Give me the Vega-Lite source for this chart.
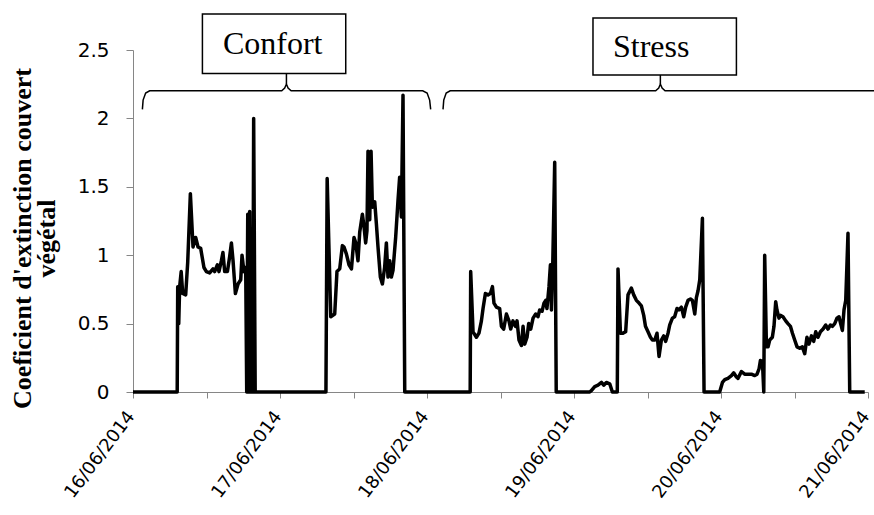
{
  "$schema": "https://vega.github.io/schema/vega-lite/v6.json",
  "width": 735,
  "height": 342,
  "autosize": {"type": "none"},
  "padding": {"left": 133, "top": 50, "right": 6, "bottom": 123},
  "background": "white",
  "config": {"view": {"stroke": null}},
  "datasets": {
    "series": [
      {"t": "2014-06-16T00:00", "v": 0},
      {"t": "2014-06-16T07:13", "v": 0},
      {"t": "2014-06-16T07:18", "v": 0.77},
      {"t": "2014-06-16T07:28", "v": 0.5},
      {"t": "2014-06-16T07:37", "v": 0.77},
      {"t": "2014-06-16T07:52", "v": 0.88},
      {"t": "2014-06-16T08:07", "v": 0.72},
      {"t": "2014-06-16T08:36", "v": 0.71},
      {"t": "2014-06-16T08:56", "v": 0.95},
      {"t": "2014-06-16T09:22", "v": 1.45},
      {"t": "2014-06-16T09:48", "v": 1.06},
      {"t": "2014-06-16T10:14", "v": 1.13},
      {"t": "2014-06-16T10:37", "v": 1.06},
      {"t": "2014-06-16T11:03", "v": 1.05},
      {"t": "2014-06-16T11:35", "v": 0.91},
      {"t": "2014-06-16T11:59", "v": 0.88},
      {"t": "2014-06-16T12:31", "v": 0.87},
      {"t": "2014-06-16T13:04", "v": 0.9},
      {"t": "2014-06-16T13:20", "v": 0.88},
      {"t": "2014-06-16T13:47", "v": 0.93},
      {"t": "2014-06-16T14:02", "v": 0.88},
      {"t": "2014-06-16T14:26", "v": 0.96},
      {"t": "2014-06-16T14:41", "v": 1.02},
      {"t": "2014-06-16T14:58", "v": 0.88},
      {"t": "2014-06-16T15:25", "v": 0.88},
      {"t": "2014-06-16T15:47", "v": 0.99},
      {"t": "2014-06-16T16:04", "v": 1.09},
      {"t": "2014-06-16T16:20", "v": 0.96},
      {"t": "2014-06-16T16:43", "v": 0.72},
      {"t": "2014-06-16T17:09", "v": 0.79},
      {"t": "2014-06-16T17:35", "v": 0.82},
      {"t": "2014-06-16T17:48", "v": 1.0},
      {"t": "2014-06-16T18:07", "v": 0.88},
      {"t": "2014-06-16T18:24", "v": 0.91},
      {"t": "2014-06-16T18:34", "v": 0},
      {"t": "2014-06-16T18:44", "v": 1.3},
      {"t": "2014-06-16T18:53", "v": 0},
      {"t": "2014-06-16T19:03", "v": 1.32},
      {"t": "2014-06-16T19:13", "v": 0},
      {"t": "2014-06-16T19:23", "v": 1.1},
      {"t": "2014-06-16T19:33", "v": 0},
      {"t": "2014-06-16T19:42", "v": 2.0},
      {"t": "2014-06-16T19:57", "v": 0},
      {"t": "2014-06-17T07:30", "v": 0},
      {"t": "2014-06-17T07:42", "v": 1.56},
      {"t": "2014-06-17T08:17", "v": 0.55},
      {"t": "2014-06-17T08:56", "v": 0.57},
      {"t": "2014-06-17T09:18", "v": 0.88},
      {"t": "2014-06-17T09:45", "v": 0.9},
      {"t": "2014-06-17T10:11", "v": 1.07},
      {"t": "2014-06-17T10:27", "v": 1.06},
      {"t": "2014-06-17T10:50", "v": 1.01},
      {"t": "2014-06-17T11:16", "v": 0.93},
      {"t": "2014-06-17T11:40", "v": 0.9},
      {"t": "2014-06-17T12:05", "v": 1.13},
      {"t": "2014-06-17T12:22", "v": 1.09},
      {"t": "2014-06-17T12:44", "v": 0.96},
      {"t": "2014-06-17T13:01", "v": 1.17},
      {"t": "2014-06-17T13:27", "v": 1.3},
      {"t": "2014-06-17T13:43", "v": 1.21},
      {"t": "2014-06-17T13:59", "v": 1.09},
      {"t": "2014-06-17T14:12", "v": 1.18},
      {"t": "2014-06-17T14:22", "v": 1.76},
      {"t": "2014-06-17T14:39", "v": 1.26},
      {"t": "2014-06-17T14:52", "v": 1.76},
      {"t": "2014-06-17T15:05", "v": 1.35},
      {"t": "2014-06-17T15:28", "v": 1.39},
      {"t": "2014-06-17T15:44", "v": 1.23},
      {"t": "2014-06-17T16:00", "v": 1.06},
      {"t": "2014-06-17T16:23", "v": 0.84},
      {"t": "2014-06-17T16:43", "v": 0.79},
      {"t": "2014-06-17T17:05", "v": 0.91},
      {"t": "2014-06-17T17:22", "v": 1.09},
      {"t": "2014-06-17T17:38", "v": 0.84},
      {"t": "2014-06-17T17:55", "v": 0.96},
      {"t": "2014-06-17T18:11", "v": 0.84},
      {"t": "2014-06-17T18:27", "v": 0.89},
      {"t": "2014-06-17T18:53", "v": 1.13},
      {"t": "2014-06-17T19:16", "v": 1.4},
      {"t": "2014-06-17T19:32", "v": 1.57},
      {"t": "2014-06-17T19:49", "v": 1.28},
      {"t": "2014-06-17T20:05", "v": 2.17},
      {"t": "2014-06-17T20:22", "v": 0},
      {"t": "2014-06-18T07:03", "v": 0},
      {"t": "2014-06-18T07:08", "v": 0.88},
      {"t": "2014-06-18T07:31", "v": 0.44},
      {"t": "2014-06-18T08:04", "v": 0.4},
      {"t": "2014-06-18T08:29", "v": 0.43},
      {"t": "2014-06-18T08:53", "v": 0.52},
      {"t": "2014-06-18T09:09", "v": 0.61},
      {"t": "2014-06-18T09:32", "v": 0.72},
      {"t": "2014-06-18T09:58", "v": 0.71},
      {"t": "2014-06-18T10:21", "v": 0.72},
      {"t": "2014-06-18T10:41", "v": 0.77},
      {"t": "2014-06-18T10:56", "v": 0.65},
      {"t": "2014-06-18T11:20", "v": 0.62},
      {"t": "2014-06-18T11:52", "v": 0.61},
      {"t": "2014-06-18T12:09", "v": 0.48},
      {"t": "2014-06-18T12:31", "v": 0.46},
      {"t": "2014-06-18T12:58", "v": 0.57},
      {"t": "2014-06-18T13:23", "v": 0.52},
      {"t": "2014-06-18T13:40", "v": 0.46},
      {"t": "2014-06-18T14:02", "v": 0.52},
      {"t": "2014-06-18T14:26", "v": 0.48},
      {"t": "2014-06-18T14:42", "v": 0.52},
      {"t": "2014-06-18T15:01", "v": 0.38},
      {"t": "2014-06-18T15:25", "v": 0.34},
      {"t": "2014-06-18T15:41", "v": 0.48},
      {"t": "2014-06-18T15:57", "v": 0.35},
      {"t": "2014-06-18T16:20", "v": 0.4},
      {"t": "2014-06-18T16:36", "v": 0.5},
      {"t": "2014-06-18T16:56", "v": 0.46},
      {"t": "2014-06-18T17:19", "v": 0.54},
      {"t": "2014-06-18T17:45", "v": 0.57},
      {"t": "2014-06-18T18:07", "v": 0.55},
      {"t": "2014-06-18T18:24", "v": 0.6},
      {"t": "2014-06-18T18:47", "v": 0.59},
      {"t": "2014-06-18T19:06", "v": 0.65},
      {"t": "2014-06-18T19:23", "v": 0.67},
      {"t": "2014-06-18T19:35", "v": 0.61},
      {"t": "2014-06-18T19:55", "v": 0.77},
      {"t": "2014-06-18T20:09", "v": 0.93},
      {"t": "2014-06-18T20:19", "v": 0.6},
      {"t": "2014-06-18T20:31", "v": 0.9},
      {"t": "2014-06-18T20:51", "v": 1.68},
      {"t": "2014-06-18T21:06", "v": 0},
      {"t": "2014-06-19T02:34", "v": 0},
      {"t": "2014-06-19T02:50", "v": 0.01},
      {"t": "2014-06-19T03:23", "v": 0.04},
      {"t": "2014-06-19T03:55", "v": 0.05},
      {"t": "2014-06-19T04:29", "v": 0.07},
      {"t": "2014-06-19T04:51", "v": 0.05},
      {"t": "2014-06-19T05:17", "v": 0.07},
      {"t": "2014-06-19T05:50", "v": 0.06},
      {"t": "2014-06-19T06:16", "v": 0},
      {"t": "2014-06-19T07:04", "v": 0},
      {"t": "2014-06-19T07:11", "v": 0.9},
      {"t": "2014-06-19T07:35", "v": 0.43},
      {"t": "2014-06-19T08:00", "v": 0.43},
      {"t": "2014-06-19T08:26", "v": 0.44},
      {"t": "2014-06-19T08:49", "v": 0.71},
      {"t": "2014-06-19T09:22", "v": 0.76},
      {"t": "2014-06-19T09:45", "v": 0.71},
      {"t": "2014-06-19T10:11", "v": 0.67},
      {"t": "2014-06-19T10:37", "v": 0.65},
      {"t": "2014-06-19T11:00", "v": 0.63},
      {"t": "2014-06-19T11:23", "v": 0.56},
      {"t": "2014-06-19T11:40", "v": 0.48},
      {"t": "2014-06-19T12:05", "v": 0.44},
      {"t": "2014-06-19T12:29", "v": 0.4},
      {"t": "2014-06-19T12:48", "v": 0.38},
      {"t": "2014-06-19T13:11", "v": 0.38},
      {"t": "2014-06-19T13:33", "v": 0.43},
      {"t": "2014-06-19T13:53", "v": 0.26},
      {"t": "2014-06-19T14:16", "v": 0.38},
      {"t": "2014-06-19T14:39", "v": 0.41},
      {"t": "2014-06-19T14:58", "v": 0.37},
      {"t": "2014-06-19T15:21", "v": 0.43},
      {"t": "2014-06-19T15:38", "v": 0.49},
      {"t": "2014-06-19T16:04", "v": 0.54},
      {"t": "2014-06-19T16:26", "v": 0.55},
      {"t": "2014-06-19T16:49", "v": 0.61},
      {"t": "2014-06-19T17:08", "v": 0.6},
      {"t": "2014-06-19T17:32", "v": 0.62},
      {"t": "2014-06-19T17:55", "v": 0.55},
      {"t": "2014-06-19T18:14", "v": 0.62},
      {"t": "2014-06-19T18:37", "v": 0.67},
      {"t": "2014-06-19T19:01", "v": 0.68},
      {"t": "2014-06-19T19:20", "v": 0.67},
      {"t": "2014-06-19T19:43", "v": 0.57},
      {"t": "2014-06-19T19:59", "v": 0.69},
      {"t": "2014-06-19T20:15", "v": 0.74},
      {"t": "2014-06-19T20:32", "v": 0.82},
      {"t": "2014-06-19T20:58", "v": 1.27},
      {"t": "2014-06-19T21:14", "v": 0},
      {"t": "2014-06-19T23:47", "v": 0},
      {"t": "2014-06-20T00:14", "v": 0.07},
      {"t": "2014-06-20T00:37", "v": 0.09},
      {"t": "2014-06-20T01:08", "v": 0.1},
      {"t": "2014-06-20T01:42", "v": 0.12},
      {"t": "2014-06-20T02:04", "v": 0.14},
      {"t": "2014-06-20T02:31", "v": 0.11},
      {"t": "2014-06-20T02:47", "v": 0.1},
      {"t": "2014-06-20T03:20", "v": 0.15},
      {"t": "2014-06-20T03:52", "v": 0.13},
      {"t": "2014-06-20T04:25", "v": 0.13},
      {"t": "2014-06-20T04:58", "v": 0.13},
      {"t": "2014-06-20T05:30", "v": 0.12},
      {"t": "2014-06-20T05:53", "v": 0.13},
      {"t": "2014-06-20T06:13", "v": 0.17},
      {"t": "2014-06-20T06:26", "v": 0.23},
      {"t": "2014-06-20T06:46", "v": 0.22},
      {"t": "2014-06-20T06:59", "v": 0},
      {"t": "2014-06-20T07:08", "v": 1.0},
      {"t": "2014-06-20T07:25", "v": 0.33},
      {"t": "2014-06-20T07:41", "v": 0.33},
      {"t": "2014-06-20T07:57", "v": 0.38},
      {"t": "2014-06-20T08:23", "v": 0.4},
      {"t": "2014-06-20T08:39", "v": 0.48},
      {"t": "2014-06-20T08:56", "v": 0.66},
      {"t": "2014-06-20T09:08", "v": 0.6},
      {"t": "2014-06-20T09:28", "v": 0.54},
      {"t": "2014-06-20T09:45", "v": 0.56},
      {"t": "2014-06-20T10:07", "v": 0.55},
      {"t": "2014-06-20T10:34", "v": 0.52},
      {"t": "2014-06-20T10:56", "v": 0.5},
      {"t": "2014-06-20T11:20", "v": 0.48},
      {"t": "2014-06-20T11:40", "v": 0.43},
      {"t": "2014-06-20T12:02", "v": 0.38},
      {"t": "2014-06-20T12:25", "v": 0.33},
      {"t": "2014-06-20T12:51", "v": 0.32},
      {"t": "2014-06-20T13:17", "v": 0.33},
      {"t": "2014-06-20T13:40", "v": 0.28},
      {"t": "2014-06-20T14:02", "v": 0.4},
      {"t": "2014-06-20T14:22", "v": 0.35},
      {"t": "2014-06-20T14:46", "v": 0.41},
      {"t": "2014-06-20T15:08", "v": 0.37},
      {"t": "2014-06-20T15:28", "v": 0.44},
      {"t": "2014-06-20T15:50", "v": 0.4},
      {"t": "2014-06-20T16:14", "v": 0.44},
      {"t": "2014-06-20T16:40", "v": 0.46},
      {"t": "2014-06-20T17:06", "v": 0.49},
      {"t": "2014-06-20T17:28", "v": 0.46},
      {"t": "2014-06-20T17:52", "v": 0.49},
      {"t": "2014-06-20T18:11", "v": 0.48},
      {"t": "2014-06-20T18:34", "v": 0.5},
      {"t": "2014-06-20T18:56", "v": 0.54},
      {"t": "2014-06-20T19:16", "v": 0.55},
      {"t": "2014-06-20T19:32", "v": 0.5},
      {"t": "2014-06-20T19:49", "v": 0.45},
      {"t": "2014-06-20T20:05", "v": 0.6},
      {"t": "2014-06-20T20:22", "v": 0.67},
      {"t": "2014-06-20T20:44", "v": 1.16},
      {"t": "2014-06-20T21:01", "v": 0},
      {"t": "2014-06-20T23:28", "v": 0}
    ],
    "braces": [
      {"grp": "Confort", "o": 1, "t": "2014-06-16T01:32", "v": 2.066},
      {"grp": "Confort", "o": 2, "t": "2014-06-16T01:39", "v": 2.134},
      {"grp": "Confort", "o": 3, "t": "2014-06-16T02:04", "v": 2.185},
      {"grp": "Confort", "o": 4, "t": "2014-06-16T02:43", "v": 2.202},
      {"grp": "Confort", "o": 5, "t": "2014-06-17T00:17", "v": 2.202},
      {"grp": "Confort", "o": 6, "t": "2014-06-17T00:46", "v": 2.222},
      {"grp": "Confort", "o": 7, "t": "2014-06-17T01:03", "v": 2.251},
      {"grp": "Confort", "o": 8, "t": "2014-06-17T01:19", "v": 2.222},
      {"grp": "Confort", "o": 9, "t": "2014-06-17T01:49", "v": 2.202},
      {"grp": "Confort", "o": 10, "t": "2014-06-17T23:18", "v": 2.202},
      {"grp": "Confort", "o": 11, "t": "2014-06-18T00:01", "v": 2.185},
      {"grp": "Confort", "o": 12, "t": "2014-06-18T00:26", "v": 2.134},
      {"grp": "Confort", "o": 13, "t": "2014-06-18T00:36", "v": 2.066},
      {"grp": "Stress", "o": 1, "t": "2014-06-18T02:37", "v": 2.066},
      {"grp": "Stress", "o": 2, "t": "2014-06-18T02:44", "v": 2.134},
      {"grp": "Stress", "o": 3, "t": "2014-06-18T03:08", "v": 2.185},
      {"grp": "Stress", "o": 4, "t": "2014-06-18T03:47", "v": 2.202},
      {"grp": "Stress", "o": 5, "t": "2014-06-19T13:20", "v": 2.202},
      {"grp": "Stress", "o": 6, "t": "2014-06-19T13:50", "v": 2.222},
      {"grp": "Stress", "o": 7, "t": "2014-06-19T14:06", "v": 2.251},
      {"grp": "Stress", "o": 8, "t": "2014-06-19T14:23", "v": 2.222},
      {"grp": "Stress", "o": 9, "t": "2014-06-19T14:52", "v": 2.202},
      {"grp": "Stress", "o": 10, "t": "2014-06-21T05:10", "v": 2.202}
    ],
    "notches": [
      {"t": "2014-06-17T01:03", "v": 2.251, "v2": 2.329},
      {"t": "2014-06-19T14:06", "v": 2.251, "v2": 2.317}
    ],
    "boxes": [
      {"label": "Confort", "t": "2014-06-16T11:20", "t2": "2014-06-17T10:44", "v": 2.329, "v2": 2.763, "tl": "2014-06-16T22:48", "vl": 2.547},
      {"label": "Stress", "t": "2014-06-19T03:06", "t2": "2014-06-20T02:31", "v": 2.317, "v2": 2.734, "tl": "2014-06-19T12:36", "vl": 2.525}
    ]
  },
  "layer": [
    {
      "data": {"name": "series"},
      "mark": {"type": "line", "color": "black", "strokeWidth": 3.5, "strokeJoin": "round"},
      "encoding": {
        "x": {
          "field": "t", "type": "temporal",
          "scale": {"domain": [{"year": 2014, "month": 6, "date": 16}, {"year": 2014, "month": 6, "date": 21}], "nice": false},
          "axis": {
            "title": null,
            "grid": false,
            "values": [
              {"year": 2014, "month": 6, "date": 16, "hours": 0},
              {"year": 2014, "month": 6, "date": 16, "hours": 12},
              {"year": 2014, "month": 6, "date": 17, "hours": 0},
              {"year": 2014, "month": 6, "date": 17, "hours": 12},
              {"year": 2014, "month": 6, "date": 18, "hours": 0},
              {"year": 2014, "month": 6, "date": 18, "hours": 12},
              {"year": 2014, "month": 6, "date": 19, "hours": 0},
              {"year": 2014, "month": 6, "date": 19, "hours": 12},
              {"year": 2014, "month": 6, "date": 20, "hours": 0},
              {"year": 2014, "month": 6, "date": 20, "hours": 12},
              {"year": 2014, "month": 6, "date": 21, "hours": 0}
            ],
            "labelExpr": "hours(datum.value) == 0 ? timeFormat(datum.value, '%d/%m/%Y') : ''",
            "labelAngle": -53,
            "labelAlign": "right",
            "labelBaseline": "middle",
            "labelFont": "DejaVu Sans",
            "labelFontSize": 18,
            "labelColor": "black",
            "labelPadding": 15,
            "labelOffset": -2,
            "labelOverlap": false,
            "labelBound": false,
            "labelFlush": false,
            "domainColor": "#868686",
            "domainWidth": 1,
            "tickColor": "#868686",
            "tickSize": 6
          }
        },
        "y": {
          "field": "v", "type": "quantitative",
          "scale": {"domain": [0, 2.5], "nice": false, "zero": false},
          "axis": {
            "title": ["Coeficient d'extinction couvert", "végétal"],
            "titleFont": "Liberation Serif",
            "titleFontSize": 26,
            "titleFontWeight": "bold",
            "titleColor": "black",
            "titleLineHeight": 24,
            "titleX": -98,
            "titleY": 188,
            "titleAngle": 270,
            "titleAlign": "center",
            "titleBaseline": "bottom",
            "grid": false,
            "values": [0, 0.5, 1, 1.5, 2, 2.5],
            "labelExpr": "datum.value + ''",
            "labelFont": "DejaVu Sans",
            "labelFontSize": 20,
            "labelColor": "black",
            "labelPadding": 17,
            "domainColor": "#868686",
            "tickColor": "#868686",
            "tickSize": 7
          }
        }
      }
    },
    {
      "data": {"name": "braces"},
      "mark": {"type": "line", "color": "black", "strokeWidth": 1.5, "clip": false},
      "encoding": {
        "x": {"field": "t", "type": "temporal"},
        "y": {"field": "v", "type": "quantitative"},
        "detail": {"field": "grp"},
        "order": {"field": "o", "type": "quantitative"}
      }
    },
    {
      "data": {"name": "notches"},
      "mark": {"type": "rule", "color": "black", "strokeWidth": 1.5, "clip": false},
      "encoding": {
        "x": {"field": "t", "type": "temporal"},
        "y": {"field": "v", "type": "quantitative"},
        "y2": {"field": "v2"}
      }
    },
    {
      "data": {"name": "boxes"},
      "mark": {"type": "rect", "fill": "white", "stroke": "black", "strokeWidth": 1.5, "clip": false},
      "encoding": {
        "x": {"field": "t", "type": "temporal"},
        "x2": {"field": "t2"},
        "y": {"field": "v", "type": "quantitative"},
        "y2": {"field": "v2"}
      }
    },
    {
      "data": {"name": "boxes"},
      "mark": {"type": "text", "font": "Liberation Serif", "fontSize": 32, "color": "black", "baseline": "middle", "align": "center", "clip": false},
      "encoding": {
        "x": {"field": "tl", "type": "temporal"},
        "y": {"field": "vl", "type": "quantitative"},
        "text": {"field": "label"}
      }
    }
  ]
}
